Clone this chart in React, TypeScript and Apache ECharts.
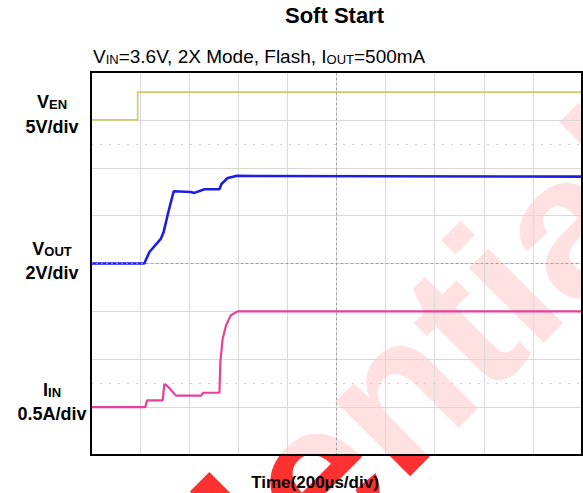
import React, { useEffect, useRef } from "react";
import * as echarts from "echarts";

// Time axis (µs), 200 µs/div, 10 divisions
const timeTicks = [0, 200, 400, 600, 800, 1000, 1200, 1400, 1600, 1800, 2000];

// V_EN trace (V), 5 V/div, ground at division 7
const venTime = [0, 190, 190, 2000];
const venVolts = [0, 0, 2.9, 2.9];

// V_OUT trace (V), 2 V/div, ground at division 4
const voutTime = [0, 217, 238, 285, 296, 315, 337, 407, 421, 462, 523, 532, 557, 591, 2000];
const voutVolts = [0, 0, 0.48, 1.04, 1.32, 2.15, 3.02, 2.99, 2.95, 3.1, 3.1, 3.33, 3.57, 3.66, 3.63];

// I_IN trace (A), 0.5 A/div, zero at division 1
const iinTime = [0, 221, 228, 292, 299, 315, 346, 448, 457, 523, 527, 536, 550, 570, 597, 2000];
const iinAmps = [0, 0, 0.07, 0.07, 0.245, 0.21, 0.12, 0.12, 0.15, 0.15, 0.47, 0.71, 0.855, 0.96, 1.0, 1.0];

const VEN_SCALE = 5, VEN_OFFSET = 7;
const VOUT_SCALE = 2, VOUT_OFFSET = 4;
const IIN_SCALE = 0.5, IIN_OFFSET = 1;

const toDiv = (t: number[], v: number[], scale: number, offset: number) =>
  t.map((x, i) => [x, offset + v[i] / scale]);

export default function App() {
  const ref = useRef<HTMLDivElement>(null);
  useEffect(() => {
    document.body.style.margin = "0";
    const chart = echarts.init(ref.current!, undefined, { renderer: "svg" });
    const labelFont = "Arial, 'Liberation Sans', sans-serif";
    const sideLabel = (main: string, sub: string, unit: string, y1: number, y2: number) => [
      {
        type: "text",
        x: 52,
        y: y1,
        z: 10,
        style: {
          text: `{m|${main}}{s|${sub}}`,
          align: "center",
          verticalAlign: "middle",
          fill: "#000",
          rich: {
            m: { fontFamily: labelFont, fontWeight: "bold", fontSize: 18, lineHeight: 18 },
            s: { fontFamily: labelFont, fontWeight: "bold", fontSize: 13, lineHeight: 7, verticalAlign: "bottom" },
          },
        },
      },
      {
        type: "text",
        x: 52,
        y: y2,
        z: 10,
        style: {
          text: unit,
          align: "center",
          verticalAlign: "middle",
          fill: "#000",
          font: `bold 18px ${labelFont}`,
        },
      },
    ];
    chart.setOption({
      animation: false,
      grid: {
        left: 91,
        right: 1,
        top: 72,
        bottom: 38,
        show: true,
        backgroundColor: "rgba(255,255,255,0.86)",
        borderWidth: 0,
      },
      xAxis: {
        type: "value",
        min: timeTicks[0],
        max: timeTicks[timeTicks.length - 1],
        interval: 200,
        axisLine: { show: false },
        axisTick: { show: false },
        axisLabel: { show: false },
        splitLine: { show: true, lineStyle: { color: "#d9d9d9", width: 1 } },
      },
      yAxis: {
        type: "value",
        min: 0,
        max: 8,
        interval: 1,
        axisLine: { show: false },
        axisTick: { show: false },
        axisLabel: { show: false },
        splitLine: { show: true, lineStyle: { color: "#d9d9d9", width: 1 } },
      },
      series: [
        {
          type: "line",
          name: "VEN",
          data: toDiv(venTime, venVolts, VEN_SCALE, VEN_OFFSET),
          symbol: "none",
          lineStyle: { color: "#cfcb62", width: 1.6 },
          markLine: {
            silent: true,
            symbol: "none",
            label: { show: false },
            data: [
              { xAxis: 1000, lineStyle: { color: "#9a9a9a", type: [2, 3], width: 1 } },
              { yAxis: 4, lineStyle: { color: "#9a9a9a", type: [2, 3], width: 1 } },
              { yAxis: 6.5, lineStyle: { color: "#cfcfcf", type: [2, 7], width: 1 } },
              { yAxis: 1.5, lineStyle: { color: "#cfcfcf", type: [2, 7], width: 1 } },
            ],
          },
        },
        {
          type: "line",
          name: "VOUT",
          data: toDiv(voutTime, voutVolts, VOUT_SCALE, VOUT_OFFSET),
          symbol: "none",
          lineStyle: { color: "#1d1de6", width: 2.6 },
        },
        {
          type: "line",
          name: "IIN",
          data: toDiv(iinTime, iinAmps, IIN_SCALE, IIN_OFFSET),
          symbol: "none",
          lineStyle: { color: "#e8409a", width: 2.2 },
        },
      ],
      graphic: [
        {
          type: "text",
          x: -175,
          y: 963,
          rotation: Math.PI / 4,
          z: -10,
          silent: true,
          style: {
            text: "Confidential",
            font: `bold 200px ${labelFont}`,
            fill: "#ff3030",
            align: "left",
            verticalAlign: "middle",
          },
        },
        {
          type: "rect",
          z: 20,
          silent: true,
          shape: { x: 91, y: 72, width: 491, height: 383 },
          style: { fill: "none", stroke: "#000", lineWidth: 2 },
        },
        {
          type: "text",
          x: 334.5,
          y: 15.6,
          z: 10,
          style: {
            text: "Soft Start",
            font: `bold 22px ${labelFont}`,
            fill: "#000",
            align: "center",
            verticalAlign: "middle",
          },
        },
        {
          type: "text",
          x: 93,
          y: 56.7,
          z: 10,
          style: {
            text: "{m|V}{s|IN}{m|=3.6V, 2X Mode, Flash, I}{s|OUT}{m|=500mA}",
            align: "left",
            verticalAlign: "middle",
            fill: "#000",
            rich: {
              m: { fontFamily: labelFont, fontSize: 19, lineHeight: 19 },
              s: { fontFamily: labelFont, fontSize: 13, lineHeight: 8, verticalAlign: "bottom" },
            },
          },
        },
        ...sideLabel("V", "EN", "5V/div", 101.7, 126.7),
        ...sideLabel("V", "OUT", "2V/div", 249, 272.7),
        ...sideLabel("I", "IN", "0.5A/div", 390.4, 413.7),
        {
          type: "text",
          x: 315,
          y: 482,
          z: 10,
          style: {
            text: "Time(200µs/div)",
            font: `bold 17px ${labelFont}`,
            fill: "#000",
            align: "center",
            verticalAlign: "middle",
          },
        },
      ],
    });
    return () => chart.dispose();
  }, []);
  return <div ref={ref} style={{ width: 583, height: 493 }} />;
}
